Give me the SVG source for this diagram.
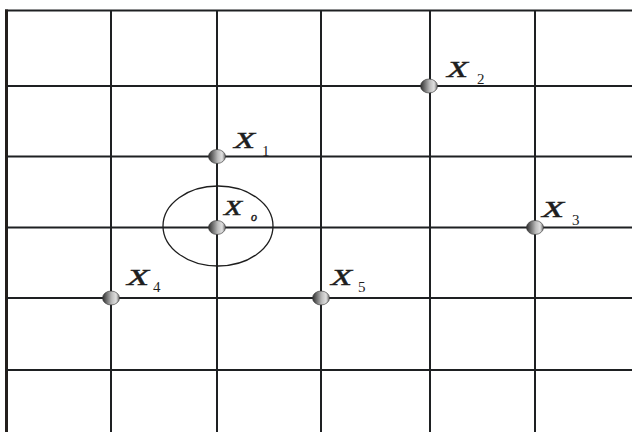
<svg xmlns="http://www.w3.org/2000/svg" width="632" height="432" viewBox="0 0 632 432">
<style>
.g{stroke:#1e2022;stroke-width:2;fill:none}
.lbl{font-family:"Liberation Serif","Times New Roman",serif;font-style:italic;fill:#1e1e1e;stroke:#1e1e1e;stroke-width:0.5}
.sub{font-family:"Liberation Serif","Times New Roman",serif;fill:#1e1e1e}
.pt{fill:url(#sph);stroke:#333;stroke-width:0.6}
</style>
<defs>
<linearGradient id="sph" x1="0" y1="0" x2="1" y2="0">
<stop offset="0" stop-color="#2e2e2e"/>
<stop offset="0.55" stop-color="#bdbdbd"/>
<stop offset="0.8" stop-color="#e0e0e0"/>
<stop offset="1" stop-color="#6a6a6a"/>
</linearGradient>
</defs>
<rect width="632" height="432" fill="#fff"/>
<g id="connectors">
<line class="g" x1="5" y1="10.5" x2="632" y2="10.5" stroke="#333"/>
<line x1="6.5" y1="9.5" x2="6.5" y2="432" stroke="#231f1c" stroke-width="3"/>
<line class="g" x1="111" y1="11" x2="111" y2="432"/>
<line class="g" x1="217" y1="11" x2="217" y2="432"/>
<line class="g" x1="321" y1="11" x2="321" y2="432"/>
<line class="g" x1="430" y1="11" x2="430" y2="432"/>
<line class="g" x1="535" y1="11" x2="535" y2="432"/>
<line class="g" x1="7" y1="86" x2="632" y2="86"/>
<line class="g" x1="7" y1="156.5" x2="632" y2="156.5"/>
<line class="g" x1="7" y1="227.5" x2="632" y2="227.5"/>
<line class="g" x1="7" y1="298" x2="632" y2="298"/>
<line class="g" x1="7" y1="370" x2="632" y2="370"/>
<ellipse cx="218" cy="226" rx="55" ry="40" fill="none" stroke="#1e1e1e" stroke-width="1.3"/>
</g>
<g id="X1">
<ellipse class="pt" cx="217" cy="156.5" rx="8.5" ry="7"/>
<text class="lbl" x="234" y="148" font-size="23" textLength="21" lengthAdjust="spacingAndGlyphs">X</text>
<text class="sub" x="262" y="156" font-size="15">1</text>
</g>
<g id="X2">
<ellipse class="pt" cx="429" cy="86" rx="8.5" ry="7"/>
<text class="lbl" x="447" y="77" font-size="23" textLength="21" lengthAdjust="spacingAndGlyphs">X</text>
<text class="sub" x="477" y="84" font-size="15">2</text>
</g>
<g id="Xo">
<ellipse class="pt" cx="217" cy="227.5" rx="8.5" ry="7"/>
<text class="lbl" x="224" y="215" font-size="20" textLength="18" lengthAdjust="spacingAndGlyphs">X</text>
<text class="lbl" x="251" y="221" font-size="12" stroke-width="0">o</text>
</g>
<g id="X3">
<ellipse class="pt" cx="535" cy="227.5" rx="8.5" ry="7"/>
<text class="lbl" x="542" y="217" font-size="23" textLength="22" lengthAdjust="spacingAndGlyphs">X</text>
<text class="sub" x="572" y="225" font-size="15">3</text>
</g>
<g id="X4">
<ellipse class="pt" cx="111" cy="298" rx="8.5" ry="7"/>
<text class="lbl" x="127" y="285" font-size="23" textLength="22" lengthAdjust="spacingAndGlyphs">X</text>
<text class="sub" x="153" y="292" font-size="15">4</text>
</g>
<g id="X5">
<ellipse class="pt" cx="321" cy="298" rx="8.5" ry="7"/>
<text class="lbl" x="331" y="285" font-size="23" textLength="21" lengthAdjust="spacingAndGlyphs">X</text>
<text class="sub" x="358" y="292" font-size="15">5</text>
</g>
</svg>
